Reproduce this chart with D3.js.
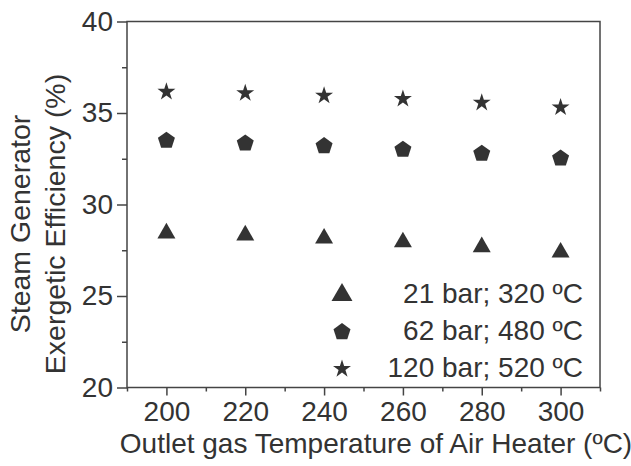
<!DOCTYPE html>
<html>
<head>
<meta charset="utf-8">
<script src="https://cdn.jsdelivr.net/npm/d3@7"></script>
<style>
  body { margin: 0; background: #fff; }
  svg text { font-family: "Liberation Sans", Arial, sans-serif; fill: #333; }
</style>
</head>
<body>
<div id="chart"></div>
<script>
// data
const temps = [200, 220, 240, 260, 280, 300];
const eff21 = [28.43, 28.32, 28.15, 27.95, 27.68, 27.39];
const eff62 = [33.49, 33.34, 33.2, 33.0, 32.78, 32.52];
const eff120 = [36.16, 36.08, 35.95, 35.77, 35.56, 35.31];
const seriesNames = ["21 bar; 320 ºC", "62 bar; 480 ºC", "120 bar; 520 ºC"];
const xTicks = [200, 220, 240, 260, 280, 300];
const yTicks = [20, 25, 30, 35, 40];

const W = 631, H = 466;
const margin = { top: 21.5, right: 31, bottom: 78.5, left: 127 };
const width = W - margin.left - margin.right,
      height = H - margin.top - margin.bottom;

const ink = "#333";
const axisColor = "#444";
const fs = 28;

// custom pentagon symbol (d3 has none)
const symbolPentagon = {
  draw(ctx, size) {
    const r = Math.sqrt(size / 2.378);
    for (let i = 0; i < 5; i++) {
      const a = -Math.PI / 2 + i * 2 * Math.PI / 5;
      const px = r * Math.cos(a), py = r * Math.sin(a);
      if (i === 0) ctx.moveTo(px, py); else ctx.lineTo(px, py);
    }
    ctx.closePath();
  }
};

const svg = d3.select("#chart").append("svg")
  .attr("width", W)
  .attr("height", H);

const g = svg.append("g")
  .attr("transform", `translate(${margin.left},${margin.top})`);

const x = d3.scaleLinear().domain([190, 310]).range([0, width]);
const y = d3.scaleLinear().domain([20, 40]).range([height, 0]);

// frame
g.append("rect")
  .attr("width", width).attr("height", height)
  .attr("fill", "none").attr("stroke", axisColor).attr("stroke-width", 1.5);

// minor ticks
const xMinor = d3.range(190, 311, 20);
const yMinor = d3.range(22.5, 40, 5);

g.append("g")
  .attr("transform", `translate(0,${height})`)
  .call(d3.axisBottom(x).tickValues(xTicks).tickSize(8).tickPadding(5.5).tickFormat(d3.format("d")));
g.append("g")
  .attr("transform", `translate(0,${height})`)
  .call(d3.axisBottom(x).tickValues(xMinor).tickSize(4).tickFormat(""));

g.append("g")
  .call(d3.axisLeft(y).tickValues(yTicks).tickSize(10).tickPadding(4).tickFormat(d3.format("d")));
g.append("g")
  .call(d3.axisLeft(y).tickValues(yMinor).tickSize(5).tickFormat(""));

g.selectAll(".domain").remove();
g.selectAll(".tick line").attr("stroke", axisColor).attr("stroke-width", 1.5);
g.selectAll(".tick text").attr("font-size", fs).style("fill", ink);

// axis titles
svg.append("text")
  .attr("x", 376).attr("y", 453)
  .attr("text-anchor", "middle")
  .attr("font-size", fs)
  .text("Outlet gas Temperature of Air Heater (ºC)");

const yLab = svg.append("text")
  .attr("transform", "translate(0,224) rotate(-90)")
  .attr("text-anchor", "middle")
  .attr("font-size", 28.5);
yLab.append("tspan").attr("x", 0).attr("y", 30).text("Steam Generator");
yLab.append("tspan").attr("x", 0).attr("y", 65).text("Exergetic Efficiency (%)");

// series
const series = [
  { values: eff21, type: d3.symbolTriangle, size: 140, legendSize: 190 },
  { values: eff62, type: symbolPentagon, size: 190, legendSize: 190 },
  { values: eff120, type: d3.symbolStar, size: 100, legendSize: 100 }
];

series.forEach(s => {
  g.selectAll(null)
    .data(temps.map((t, i) => ({ t, v: s.values[i] })))
    .enter()
    .append("path")
      .attr("transform", d => `translate(${x(d.t)},${y(d.v)})`)
      .attr("d", d3.symbol().type(s.type).size(s.size))
      .attr("fill", ink);
});

// legend
const legend = svg.append("g");
const legendY = [295, 332, 369];
series.forEach((s, i) => {
  legend.append("path")
    .attr("transform", `translate(342,${legendY[i]})`)
    .attr("d", d3.symbol().type(s.type).size(s.legendSize))
    .attr("fill", ink);
  legend.append("text")
    .attr("x", 583).attr("y", legendY[i] + 8)
    .attr("text-anchor", "end")
    .attr("font-size", fs)
    .text(seriesNames[i]);
});
</script>
</body>
</html>
